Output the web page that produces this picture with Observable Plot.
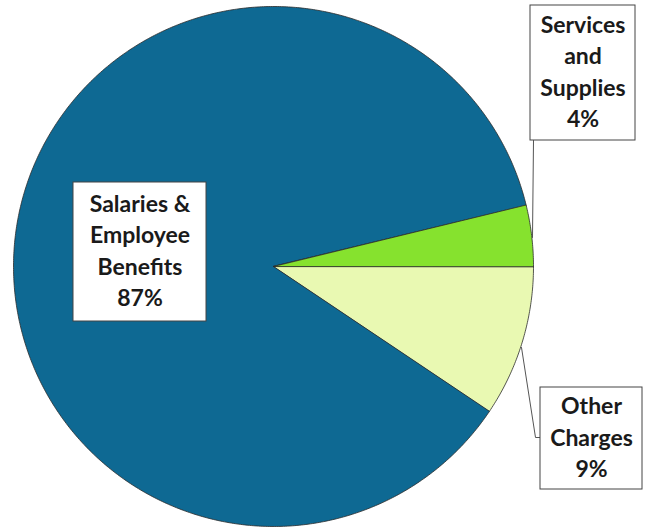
<!DOCTYPE html>
<html><head><meta charset="utf-8">
<script src="https://cdn.jsdelivr.net/npm/d3@7"></script>
<script src="https://cdn.jsdelivr.net/npm/@observablehq/plot@0.6"></script>
<style>body{margin:0;background:#fff;overflow:hidden}</style>
</head><body><div id="chart"></div>
<script>
// Data (clockwise from 3 o'clock)
const categories = ["Other Charges", "Salaries & Employee Benefits", "Services and Supplies"];
const labelLines = [["Other", "Charges"], ["Salaries &", "Employee", "Benefits"], ["Services", "and", "Supplies"]];
const shares = [9.4, 86.8, 3.8];
const colors = ["#e9f9b2", "#0e6993", "#86e22e"];

// Layout (in plot domain units = pixels)
const W = 649, H = 527;
const cx = 273, cy = 266, R = 260;
const boxes = [
  {x1: 540, x2: 642, y1: 387, y2: 489},
  {x1: 73, x2: 206, y1: 182, y2: 321},
  {x1: 530, x2: 635, y1: 5, y2: 140}
];
const leaders = [
  [[540, 437], [535, 437], [521, 347]],
  [],
  [[533, 140], [532, 237]]
];

// Build slice polygons from the data
const total = d3.sum(shares);
const slicePts = [];
let acc = 0;
shares.forEach((s, i) => {
  const a0 = acc / total * 2 * Math.PI;
  acc += s;
  const a1 = acc / total * 2 * Math.PI;
  slicePts.push({k: i, x: cx, y: cy});
  const n = Math.max(2, Math.ceil((a1 - a0) / (Math.PI / 360)));
  for (let j = 0; j <= n; j++) {
    const a = a0 + (a1 - a0) * j / n;
    slicePts.push({k: i, x: cx + R * Math.cos(a), y: cy + R * Math.sin(a)});
  }
});

const labels = categories.map((c, i) => ({
  i,
  text: [...labelLines[i], Math.round(shares[i] / total * 100) + "%"].join("\n"),
  x: (boxes[i].x1 + boxes[i].x2) / 2,
  y: (boxes[i].y1 + boxes[i].y2) / 2
}));
const leaderPts = leaders.flatMap((l, i) => l.map(([x, y]) => ({k: i, x, y})));

const chart = Plot.plot({
  width: W, height: H,
  margin: 0,
  x: {domain: [0, W], range: [0, W], axis: null},
  y: {domain: [0, H], range: [0, H], axis: null},
  style: {background: "#fff"},
  marks: [
    Plot.line(slicePts, {x: "x", y: "y", z: "k", curve: "linear-closed",
      fill: d => colors[d.k], stroke: "#2b2b2b", strokeWidth: 0.8, strokeLinejoin: "round"}),
    Plot.line(leaderPts, {x: "x", y: "y", z: "k", stroke: "#555", strokeWidth: 1}),
    Plot.rect(boxes, {x1: "x1", x2: "x2", y1: "y1", y2: "y2", fill: "#fff", stroke: "#444", strokeWidth: 1}),
    Plot.text(labels, {x: "x", y: "y", dy: -3, text: "text", lineHeight: 1.37, fontSize: 23,
      fontWeight: "bold", fontFamily: "Lato", fill: "#1a1a1a", textAnchor: "middle"})
  ]
});
document.getElementById("chart").appendChild(chart);
</script>
</body></html>
